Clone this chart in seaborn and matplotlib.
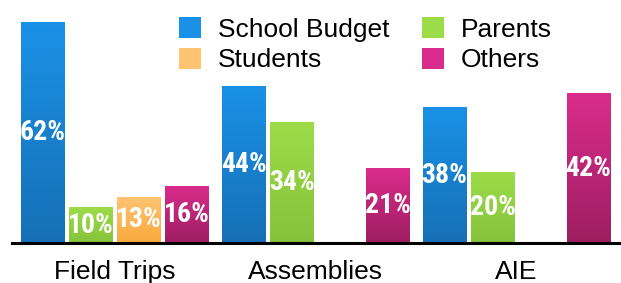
import numpy as np
import pandas as pd
import matplotlib
matplotlib.use("Agg")
import matplotlib.pyplot as plt
from matplotlib.colors import to_rgb
from matplotlib.patches import Patch
import seaborn as sns

# ── data ──
categories = ["Field Trips", "Assemblies", "AIE"]
sources = ["School Budget", "Parents", "Students", "Others"]
school_budget = [62, 44, 38]
parents = [10, 34, 20]
students = [13, None, None]
others = [16, 21, 42]

# gradient colours (top, bottom) per series
colors = {
    "School Budget": ("#1a91e6", "#1670b6"),
    "Parents": ("#9cdc48", "#86c23b"),
    "Students": ("#ffc372", "#faa93d"),
    "Others": ("#da2c8c", "#9e1e61"),
}

rows = []
for src, vals in zip(sources, [school_budget, parents, students, others]):
    for cat, v in zip(categories, vals):
        if v is not None:
            rows.append({"category": cat, "source": src, "share": v})
df = pd.DataFrame(rows)

sns.set_theme(style="white")
plt.rcParams["font.family"] = ["Liberation Sans", "DejaVu Sans"]
plt.rcParams["text.color"] = "black"

fig = plt.figure(figsize=(6.21, 2.83), dpi=100)
ax = fig.add_axes([12 / 621, 1 - 243 / 283, 1 - 12 / 621, 243 / 283])

sns.barplot(data=df, x="category", y="share", hue="source",
            order=categories, hue_order=sources, width=0.955, gap=0.1,
            legend=False, ax=ax)

xlim = (-0.51, 2.52)
ylim = (0, 68.1)

# vertical gradient fill clipped to each bar
for src, cont in zip(sources, ax.containers):
    top, bot = np.array(to_rgb(colors[src][0])), np.array(to_rgb(colors[src][1]))
    grad = np.linspace(0, 1, 64)[:, None, None]
    img = (top * (1 - grad) + bot * grad)
    for bar in cont:
        x0, w, h = bar.get_x(), bar.get_width(), bar.get_height()
        im = ax.imshow(img, extent=[x0, x0 + w, 0, h], origin="upper",
                       aspect="auto", zorder=2)
        im.set_clip_path(bar)
        bar.set_facecolor("none")
        bar.set_edgecolor("none")
    ax.bar_label(cont, fmt="{:.0f}%", label_type="center", color="white",
                 fontsize=20, fontweight="bold", zorder=5,
                 family=["Liberation Sans Narrow", "Roboto Condensed",
                         "Roboto", "DejaVu Sans"])

ax.set_xlim(*xlim)
ax.set_ylim(*ylim)
ax.set_xlabel("")
ax.set_ylabel("")
ax.set_yticks([])
ax.tick_params(axis="x", length=0, pad=12, labelsize=19, colors="black")
for side in ["top", "right", "left"]:
    ax.spines[side].set_visible(False)
ax.spines["bottom"].set_color("black")
ax.spines["bottom"].set_linewidth(2.2)
ax.spines["bottom"].set_zorder(6)

legend_order = ["School Budget", "Students", "Parents", "Others"]
handles = [Patch(facecolor=colors[s][0], edgecolor="none") for s in legend_order]
fig.legend(handles, legend_order, loc="upper left",
           bbox_to_anchor=(179 / 621, 1 - 17 / 283), ncol=2, frameon=False,
           fontsize=19, handlelength=0.83, handleheight=0.83,
           handletextpad=0.64, columnspacing=1.25, labelspacing=0.24,
           borderpad=0, borderaxespad=0)

fig.savefig("out.png", dpi=100)
